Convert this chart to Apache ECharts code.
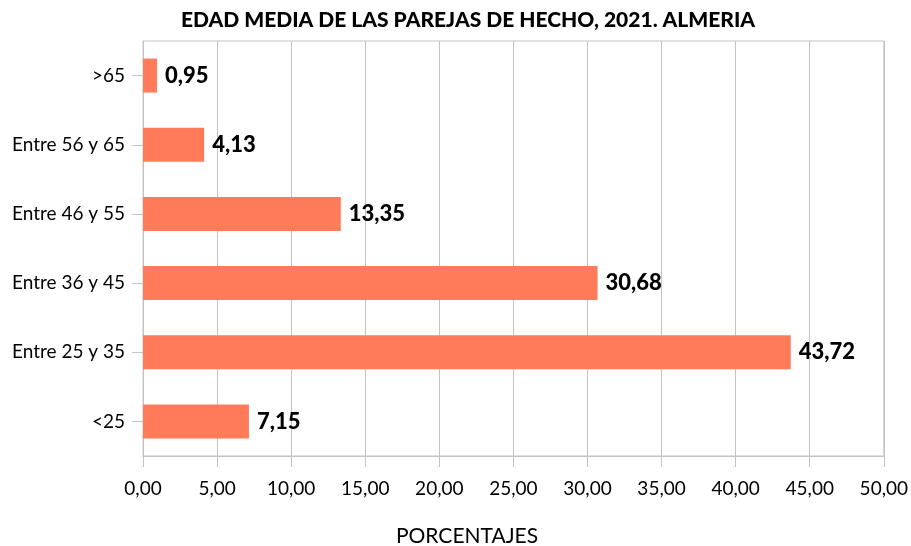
<!DOCTYPE html>
<html>
<head>
<meta charset="utf-8">
<script src="https://cdn.jsdelivr.net/npm/echarts@6/dist/echarts.min.js"></script>
<style>
	html, body { margin: 0; padding: 0; background: #fff; }
	#chart { width: 911px; height: 546px; }
</style>
</head>
<body>
<div id="chart"></div>
<script>
// 数据：类别（从下到上）与百分比
const categories = ["<25", "Entre 25 y 35", "Entre 36 y 45", "Entre 46 y 55", "Entre 56 y 65", ">65"];
const values = [7.15, 43.72, 30.68, 13.35, 4.13, 0.95];

const fontFamily = "Lato, 'Noto Sans', sans-serif";
const gridColor = "#c3c3c3";

// 数字格式：逗号小数
function fmt(v) {
	return Number(v).toFixed(2).replace(".", ",");
}

const chart = echarts.init(document.getElementById("chart"));

const option = {
	backgroundColor: "#ffffff",
	animation: false,
	title: [
		{
			text: "EDAD MEDIA DE LAS PAREJAS DE HECHO, 2021. ALMERIA",
			left: 463,
			top: 5,
			textAlign: "center",
			textStyle: { fontFamily, fontSize: 21, fontWeight: 900, color: "#000" },
		},
		{
			text: "PORCENTAJES",
			left: 462,
			top: 521,
			textAlign: "center",
			textStyle: { fontFamily, fontSize: 21, fontWeight: "normal", color: "#000" },
		},
	],
	grid: {
		left: 143,
		right: 26,
		top: 41,
		bottom: 90,
		show: true,
		borderColor: gridColor,
		borderWidth: 1,
	},
	xAxis: {
		type: "value",
		min: 0,
		max: 50,
		interval: 5,
		axisLine: { show: true, lineStyle: { color: gridColor } },
		axisTick: { show: true, length: 11, lineStyle: { color: gridColor } },
		splitLine: { show: true, lineStyle: { color: gridColor } },
		axisLabel: {
			color: "#000",
			fontFamily,
			fontSize: 19,
			margin: 23,
			formatter: fmt,
		},
	},
	yAxis: {
		type: "category",
		data: categories,
		axisLine: { show: true, lineStyle: { color: gridColor } },
		axisTick: { show: true, alignWithLabel: true, length: 11, lineStyle: { color: gridColor } },
		splitLine: { show: false },
		axisLabel: { color: "#000", fontFamily, fontSize: 19, margin: 18 },
	},
	series: [
		{
			type: "bar",
			data: values,
			barWidth: 34,
			itemStyle: { color: "#ff7b5a" },
			label: {
				show: true,
				position: "right",
				distance: 8,
				color: "#000",
				fontFamily,
				fontSize: 22,
				fontWeight: 900,
				formatter: (p) => fmt(p.value),
			},
		},
	],
};

chart.setOption(option);
</script>
</body>
</html>
